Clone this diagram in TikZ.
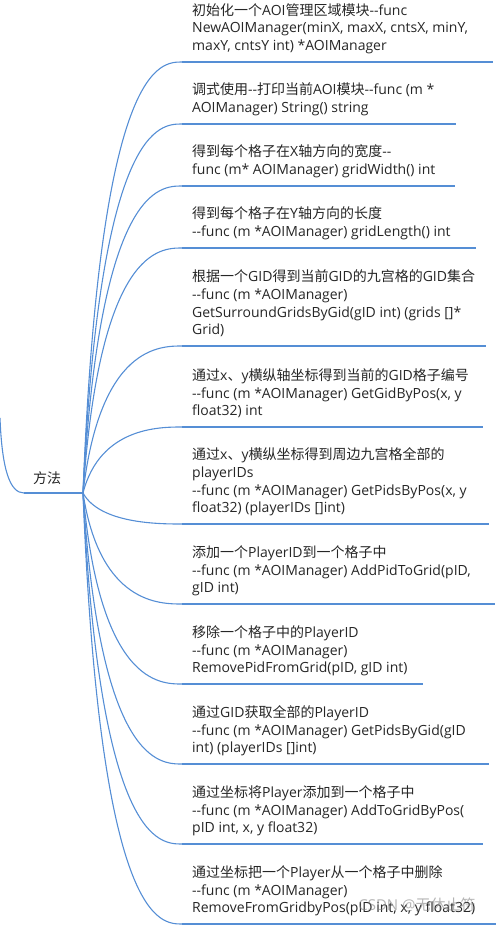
\documentclass[tikz,border=0pt]{standalone}
\usepackage{fontspec}
\setmainfont{Open Sans}[Ligatures=TeXOff]
\newfontfamily\cjkfont{Noto Sans CJK SC}[Ligatures=TeXOff]
\usepackage{xcolor}
\usepackage{tikz}

% switch to the CJK font for Chinese characters
\XeTeXinterchartokenstate=1
\newXeTeXintercharclass\cjkclass
\newcount\cjkcnt
\cjkcnt="3000
\loop\ifnum\cjkcnt<"3040 \XeTeXcharclass\cjkcnt=\cjkclass \advance\cjkcnt by 1 \repeat
\cjkcnt="4E00
\loop\ifnum\cjkcnt<"A000 \XeTeXcharclass\cjkcnt=\cjkclass \advance\cjkcnt by 1 \repeat
\cjkcnt="FF00
\loop\ifnum\cjkcnt<"FFF0 \XeTeXcharclass\cjkcnt=\cjkclass \advance\cjkcnt by 1 \repeat
\XeTeXinterchartoks 0 \cjkclass = {\cjkfont}
\XeTeXinterchartoks 4095 \cjkclass = {\cjkfont}
\XeTeXinterchartoks \cjkclass 0 = {\normalfont}
\XeTeXinterchartoks 4095 0 = {\normalfont}

\definecolor{mapblue}{HTML}{558ED5}

\begin{document}
\begin{tikzpicture}[
  x=1pt, y=-1pt,
  link/.style={draw=mapblue, line width=1.1pt},
  uline/.style={draw=mapblue, line width=2.8pt},
  topic/.style={anchor=south west, inner sep=0pt, align=left, text depth=0pt,
    text=black!85, font=\fontsize{14}{17.8}\selectfont},
  root/.style={inner sep=0pt, text=black!85, font=\fontsize{14}{17.8}\selectfont}
]
  \useasboundingbox (0,0) rectangle (501,928);
  \clip (0,0) rectangle (501,928);

  % Main topic
  \node[root] (method) at (47,478) {方法};
  \coordinate (hub) at (83,493);
  \coordinate (in) at (0,418);
  \draw[link] (in) .. controls (2,470) and (10,493) .. (24,493) coordinate (m0);
  \draw[uline] (m0) -- (70,493) coordinate (m1);
  \draw[link] (m1) -- (hub);

  % 1
  \draw[uline] (182,62) coordinate (u1) -- (493,62);
  \draw[link] (hub) .. controls (100,62) and (160,62) .. (u1);
  \node[topic] (t1) at (192,51) {初始化一个AOI管理区域模块--func\\NewAOIManager(minX, maxX, cntsX, minY,\\maxY, cntsY int) *AOIManager};

  % 2
  \draw[uline] (182,124) coordinate (u2) -- (456,124);
  \draw[link] (hub) .. controls (100,124) and (160,124) .. (u2);
  \node[topic] (t2) at (192,113) {调式使用--打印当前AOI模块--func (m *\\AOIManager) String() string};

  % 3
  \draw[uline] (182,186) coordinate (u3) -- (455,186);
  \draw[link] (hub) .. controls (100,186) and (160,186) .. (u3);
  \node[topic] (t3) at (192,175) {得到每个格子在X轴方向的宽度--\\func (m* AOIManager) gridWidth() int};

  % 4
  \draw[uline] (182,248) coordinate (u4) -- (476,248);
  \draw[link] (hub) .. controls (100,248) and (160,248) .. (u4);
  \node[topic] (t4) at (192,237) {得到每个格子在Y轴方向的长度\\--func (m *AOIManager) gridLength() int};

  % 5
  \draw[uline] (182,346) coordinate (u5) -- (486,346);
  \draw[link] (hub) .. controls (100,346) and (160,346) .. (u5);
  \node[topic] (t5) at (192,335) {根据一个GID得到当前GID的九宫格的GID集合\\--func (m *AOIManager)\\GetSurroundGridsByGid(gID int) (grids []*\\Grid)};

  % 6
  \draw[uline] (182,427) coordinate (u6) -- (483,427);
  \draw[link] (hub) .. controls (100,427) and (160,427) .. (u6);
  \node[topic] (t6) at (192,416) {通过x、y横纵轴坐标得到当前的GID格子编号\\--func (m *AOIManager) GetGidByPos(x, y\\float32) int};

  % 7
  \draw[uline] (182,524) coordinate (u7) -- (489,524);
  \draw[link] (hub) .. controls (100,524) and (160,524) .. (u7);
  \node[topic] (t7) at (192,513) {通过x、y横纵坐标得到周边九宫格全部的\\playerIDs\\--func (m *AOIManager) GetPidsByPos(x, y\\float32) (playerIDs []int)};

  % 8
  \draw[uline] (182,604) coordinate (u8) -- (495,604);
  \draw[link] (hub) .. controls (100,604) and (160,604) .. (u8);
  \node[topic] (t8) at (192,593) {添加一个PlayerID到一个格子中\\--func (m *AOIManager) AddPidToGrid(pID,\\gID int)};

  % 9
  \draw[uline] (182,684) coordinate (u9) -- (423,684);
  \draw[link] (hub) .. controls (100,684) and (160,684) .. (u9);
  \node[topic] (t9) at (192,673) {移除一个格子中的PlayerID\\--func (m *AOIManager)\\RemovePidFromGrid(pID, gID int)};

  % 10
  \draw[uline] (182,764) coordinate (u10) -- (489,764);
  \draw[link] (hub) .. controls (100,764) and (160,764) .. (u10);
  \node[topic] (t10) at (192,753) {通过GID获取全部的PlayerID\\--func (m *AOIManager) GetPidsByGid(gID\\int) (playerIDs []int)};

  % 11
  \draw[uline] (182,844) coordinate (u11) -- (483,844);
  \draw[link] (hub) .. controls (100,844) and (160,844) .. (u11);
  \node[topic] (t11) at (192,833) {通过坐标将Player添加到一个格子中\\--func (m *AOIManager) AddToGridByPos(\\pID int, x, y float32)};

  % 12
  \draw[uline] (182,924) coordinate (u12) -- (496,924);
  \draw[link] (hub) .. controls (100,924) and (160,924) .. (u12);
  \node[topic] (t12) at (192,913) {通过坐标把一个Player从一个格子中删除\\--func (m *AOIManager)\\RemoveFromGridbyPos(pID int, x, y float32)};

  % watermark
  \node[root, text=gray, opacity=0.6, font=\fontsize{15}{18}\selectfont] (wm) at (417,905) {CSDN @无休止符};
\end{tikzpicture}
\end{document}
